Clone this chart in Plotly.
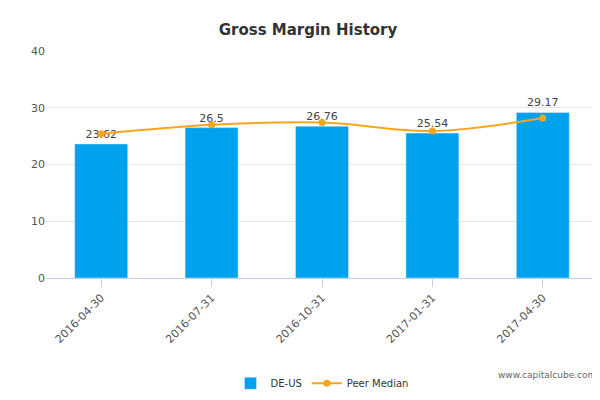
import plotly.graph_objects as go

dates = ["2016-04-30", "2016-07-31", "2016-10-31", "2017-01-31", "2017-04-30"]
de_us = [23.62, 26.5, 26.76, 25.54, 29.17]
peer_median = [25.4, 27.0, 27.4, 25.9, 28.2]

fig = go.Figure()
fig.add_trace(go.Bar(
    x=dates, y=de_us, name="DE-US", marker_color="#00a2ed", width=0.48,
    text=[str(v) for v in de_us], textposition="outside",
    textfont=dict(size=11, color="#444"), cliponaxis=False))
fig.add_trace(go.Scatter(
    x=dates, y=peer_median, name="Peer Median", mode="lines+markers",
    line=dict(color="#f5a61d", width=2, shape="spline"),
    marker=dict(size=7, color="#f5a61d")))

fig.update_layout(
    width=600, height=400,
    title=dict(text="<b>Gross Margin History</b>", x=0.5, y=0.96,
               font=dict(size=15, color="#333")),
    font=dict(family="DejaVu Sans", color="#555", size=11),
    plot_bgcolor="white", paper_bgcolor="white",
    margin=dict(l=38, r=10, t=43, b=113),
    showlegend=True,
    legend=dict(orientation="h", x=0.5, xanchor="center", y=-0.4,
                font=dict(size=10, color="#333")),
    bargap=0.5,
)
fig.update_yaxes(range=[0, 40], dtick=10, showgrid=True, gridcolor="#e6e6e6",
                 zeroline=False, tickfont=dict(size=11))
fig.update_xaxes(type="category", tickangle=-45, showline=True, linecolor="#c0d0e0",
                 ticks="outside", ticklen=8, tickcolor="#c0d0e0",
                 tickfont=dict(size=11))
fig.add_annotation(text="www.capitalcube.com", xref="paper", yref="paper",
                   x=1.0, y=-0.46, xanchor="right", showarrow=False,
                   font=dict(size=9, color="#666"))
fig.write_html("out.html")
